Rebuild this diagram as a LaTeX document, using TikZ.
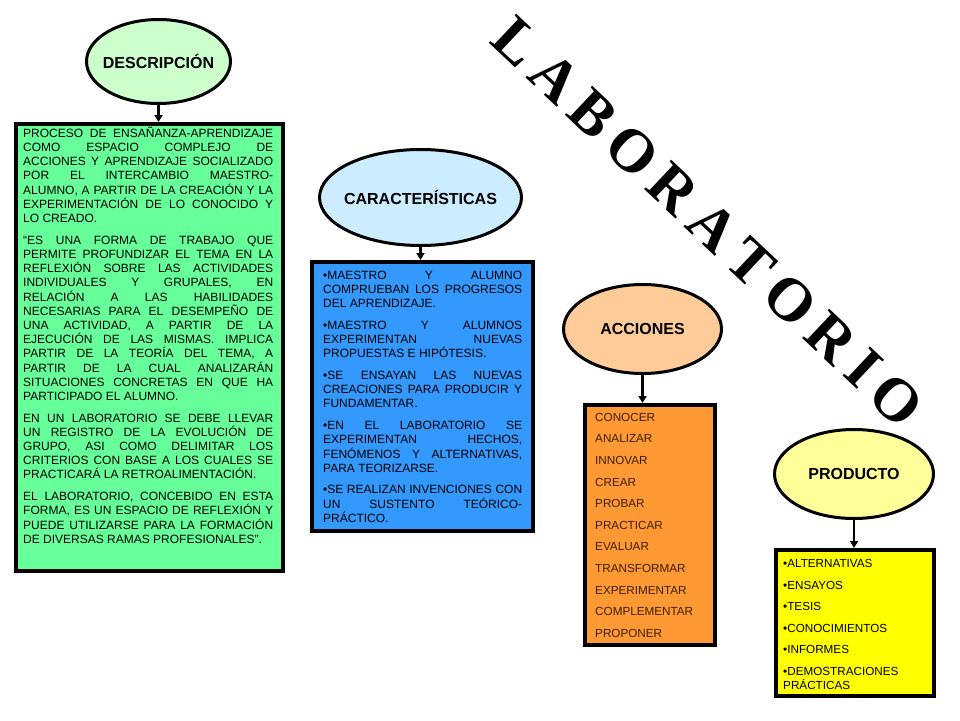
\documentclass[tikz,border=0pt]{standalone}
\usepackage{fontspec}
\setmainfont{Liberation Sans}
\newfontfamily\labfont{Liberation Serif}
\usetikzlibrary{shapes.geometric,arrows.meta}
\definecolor{cDescFill}{HTML}{CCFFCC}
\definecolor{cDescBox}{HTML}{66FF99}
\definecolor{cCarFill}{HTML}{CCECFF}
\definecolor{cCarBox}{HTML}{3399FF}
\definecolor{cAccFill}{HTML}{FFCC99}
\definecolor{cAccBox}{HTML}{FF9933}
\definecolor{cProdFill}{HTML}{FFFF99}
\definecolor{cProdBox}{HTML}{FFFF00}
\definecolor{cAccText}{HTML}{3D1F00}
\newcommand\jl[1]{\hbox to \hsize{\strut#1}}
\newcommand\lastl[1]{\hbox{\strut#1}}
\newcommand\pgap{\vskip7.5pt}
\newcommand\lsp{\hspace{10.2pt}}
\hbadness=10000 \hfuzz=30pt \vbadness=10000
\tikzset{
  ell/.style={ellipse, draw=black, line width=3pt, inner sep=0pt},
  elltext/.style={font=\fontsize{16}{19}\selectfont\bfseries, inner sep=0pt},
  boxshape/.style={draw=black, line width=4pt, anchor=north west, inner sep=0pt},
  arr/.style={line width=2.5pt, -{Triangle[length=7pt,width=8pt]}},
  txt/.style={anchor=base west, inner sep=0pt, font=\fontsize{12}{14.2}\selectfont\frenchspacing},
  listtxt/.style={anchor=base west, inner sep=0pt, font=\fontsize{11.7}{14.5}\selectfont\frenchspacing}
}
\begin{document}
\begin{tikzpicture}[x=1pt,y=-1pt]
\fill[white] (0,0) rectangle (960,720);
\useasboundingbox (0,0) rectangle (960,720);

% ---------- LABORATORIO ----------
\node[rotate=-43.3, inner sep=0pt, font=\labfont\bfseries\fontsize{61}{66}\selectfont] (lab) at (708,222)
  {L\lsp A\lsp B\lsp O\lsp R\lsp A\lsp T\lsp O\lsp R\lsp I\lsp O};

% ---------- DESCRIPCION ----------
\node[ell, fill=cDescFill, minimum width=144pt, minimum height=84pt] (desc) at (158.5,61.5) {};
\node[elltext] (desclabel) at (desc.center) {DESCRIPCIÓN};
\node[boxshape, fill=cDescBox, minimum width=267pt, minimum height=447pt] (descbox) at (14,122) {};
\draw[arr] (desc.south) -- (desc.south |- descbox.north);
\node[txt] (desctext) at (23,137.3) {\vtop{\hsize=250pt \baselineskip=14.2pt \lineskiplimit=-100pt
\jl{PROCESO DE ENSAÑANZA-APRENDIZAJE}
\jl{COMO ESPACIO COMPLEJO DE}
\jl{ACCIONES Y APRENDIZAJE SOCIALIZADO}
\jl{POR EL INTERCAMBIO MAESTRO-}
\jl{ALUMNO, A PARTIR DE LA CREACIÓN Y LA}
\jl{EXPERIMENTACIÓN DE LO CONOCIDO Y}
\lastl{LO CREADO.}
\pgap
\jl{“ES UNA FORMA DE TRABAJO QUE}
\jl{PERMITE PROFUNDIZAR EL TEMA EN LA}
\jl{REFLEXIÓN SOBRE LAS ACTIVIDADES}
\jl{INDIVIDUALES Y GRUPALES, EN}
\jl{RELACIÓN A LAS HABILIDADES}
\jl{NECESARIAS PARA EL DESEMPEÑO DE}
\jl{UNA ACTIVIDAD, A PARTIR DE LA}
\jl{EJECUCIÓN DE LAS MISMAS. IMPLICA}
\jl{PARTIR DE LA TEORÍA DEL TEMA, A}
\jl{PARTIR DE LA CUAL ANALIZARÁN}
\jl{SITUACIONES CONCRETAS EN QUE HA}
\lastl{PARTICIPADO EL ALUMNO.}
\pgap
\jl{EN UN LABORATORIO SE DEBE LLEVAR}
\jl{UN REGISTRO DE LA EVOLUCIÓN DE}
\jl{GRUPO, ASI COMO DELIMITAR LOS}
\jl{CRITERIOS CON BASE A LOS CUALES SE}
\lastl{PRACTICARÁ LA RETROALIMENTACIÓN.}
\pgap
\jl{EL LABORATORIO, CONCEBIDO EN ESTA}
\jl{FORMA, ES UN ESPACIO DE REFLEXIÓN Y}
\jl{PUEDE UTILIZARSE PARA LA FORMACIÓN}
\lastl{DE DIVERSAS RAMAS PROFESIONALES”.}
}};

% ---------- CARACTERISTICAS ----------
\node[ell, fill=cCarFill, minimum width=202pt, minimum height=96pt] (car) at (420.5,197.5) {};
\node[elltext] (carlabel) at (car.center) {CARACTERÍSTICAS};
\node[boxshape, fill=cCarBox, minimum width=221pt, minimum height=269pt] (carbox) at (310,260) {};
\draw[arr] (car.south) -- (car.south |- carbox.north);
\node[txt] (cartext) at (323,279.3) {\vtop{\hsize=199pt \baselineskip=14.2pt \lineskiplimit=-100pt
\jl{•MAESTRO Y ALUMNO}
\jl{COMPRUEBAN LOS PROGRESOS}
\lastl{DEL APRENDIZAJE.}
\pgap
\jl{•MAESTRO Y ALUMNOS}
\jl{EXPERIMENTAN NUEVAS}
\lastl{PROPUESTAS E HIPÓTESIS.}
\pgap
\jl{•SE ENSAYAN LAS NUEVAS}
\jl{CREACIONES PARA PRODUCIR Y}
\lastl{FUNDAMENTAR.}
\pgap
\jl{•EN EL LABORATORIO SE}
\jl{EXPERIMENTAN HECHOS,}
\jl{FENÓMENOS Y ALTERNATIVAS,}
\lastl{PARA TEORIZARSE.}
\pgap
\jl{•SE REALIZAN INVENCIONES CON}
\jl{UN SUSTENTO TEÓRICO-}
\lastl{PRÁCTICO.}
}};

% ---------- ACCIONES ----------
\node[ell, fill=cAccFill, minimum width=158pt, minimum height=89pt] (acc) at (642.5,329) {};
\node[elltext] (acclabel) at (acc.center) {ACCIONES};
\node[boxshape, fill=cAccBox, minimum width=130pt, minimum height=240pt] (accbox) at (583,403) {};
\draw[arr] (acc.south) -- (acc.south |- accbox.north);
\node[listtxt, text=cAccText] (acctext) at (595,421.2) {\vtop{\baselineskip=21.6pt \lineskiplimit=-100pt
\hbox{CONOCER}
\hbox{ANALIZAR}
\hbox{INNOVAR}
\hbox{CREAR}
\hbox{PROBAR}
\hbox{PRACTICAR}
\hbox{EVALUAR}
\hbox{TRANSFORMAR}
\hbox{EXPERIMENTAR}
\hbox{COMPLEMENTAR}
\hbox{PROPONER}
}};

% ---------- PRODUCTO ----------
\node[ell, fill=cProdFill, minimum width=159pt, minimum height=89pt] (prod) at (854,474) {};
\node[elltext] (prodlabel) at (prod.center) {PRODUCTO};
\node[boxshape, fill=cProdBox, minimum width=158pt, minimum height=146pt] (prodbox) at (774,548) {};
\draw[arr] (prod.south) -- (prod.south |- prodbox.north);
\node[listtxt] (prodtext) at (783,567.5) {\vtop{\baselineskip=21.5pt \lineskiplimit=-100pt
\hbox{•ALTERNATIVAS}
\hbox{•ENSAYOS}
\hbox{•TESIS}
\hbox{•CONOCIMIENTOS}
\hbox{•INFORMES}
\hbox{•DEMOSTRACIONES}
\baselineskip=14.8pt
\hbox{PRÁCTICAS}
}};
\end{tikzpicture}
\end{document}
